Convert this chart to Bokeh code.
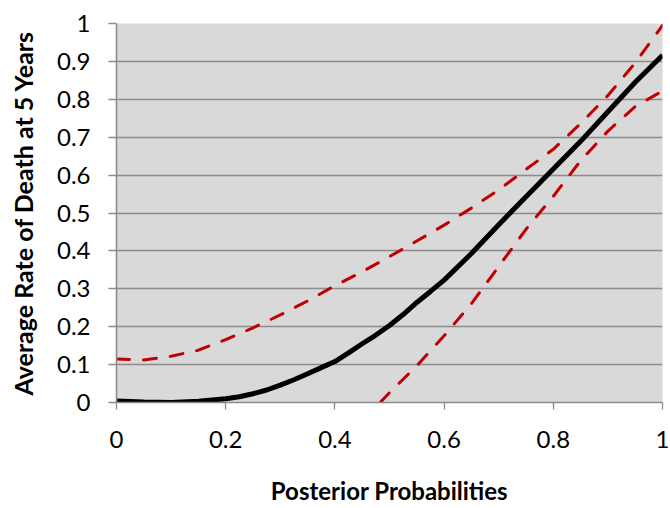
from bokeh.plotting import figure
from bokeh.models import Range1d, FixedTicker
from bokeh.embed import file_html
from bokeh.resources import INLINE

# Posterior probability grid (mean curve)
prob = [0.0, 0.05, 0.1, 0.15, 0.2, 0.225, 0.25, 0.275, 0.3, 0.325, 0.35, 0.375, 0.4,
        0.425, 0.45, 0.475, 0.5, 0.525, 0.55, 0.575, 0.6, 0.65, 0.7, 0.75, 0.8,
        0.85, 0.9, 0.95, 1.0]
# Mean rate of death (black)
mean_rate = [0.004, 0.001, 0.0, 0.003, 0.01, 0.015, 0.023, 0.033, 0.046, 0.06, 0.076, 0.092, 0.108,
             0.131, 0.155, 0.178, 0.203, 0.232, 0.264, 0.293, 0.323, 0.393, 0.469, 0.543, 0.616,
             0.689, 0.767, 0.845, 0.916]
# Upper bound (red dashed)
upper_prob = [0.0, 0.05, 0.1, 0.15, 0.2, 0.25, 0.3, 0.35, 0.4, 0.45, 0.5,
              0.55, 0.6, 0.65, 0.7, 0.75, 0.8, 0.85, 0.9, 0.95, 1.0]
upper_rate = [0.115, 0.112, 0.122, 0.138, 0.166, 0.197, 0.231, 0.268, 0.308, 0.345, 0.385,
              0.426, 0.468, 0.513, 0.561, 0.615, 0.668, 0.736, 0.81, 0.896, 0.995]
# Lower bound (red dashed), visible part
lower_prob = [0.483, 0.5, 0.55, 0.6, 0.65, 0.7, 0.75, 0.8, 0.85, 0.9, 0.95, 1.0]
lower_rate = [0.0, 0.026, 0.097, 0.176, 0.261, 0.359, 0.457, 0.544, 0.638, 0.716, 0.781, 0.822]

x_ticks = [0, 0.2, 0.4, 0.6, 0.8, 1.0]
x_tick_labels = ["0", "0.2", "0.4", "0.6", "0.8", "1"]
y_ticks = [0, 0.1, 0.2, 0.3, 0.4, 0.5, 0.6, 0.7, 0.8, 0.9, 1.0]
y_tick_labels = ["0", "0.1", "0.2", "0.3", "0.4", "0.5", "0.6", "0.7", "0.8", "0.9", "1"]

x_title = "Posterior Probabilities"
y_title = "Average Rate of Death at 5 Years"

FONT = "Lato"
GRID = "#8c8c8c"

p = figure(width=670, height=508, output_backend="svg", toolbar_location=None,
           x_range=Range1d(0, 1), y_range=Range1d(0, 1),
           min_border_left=116, min_border_right=8, min_border_top=23, min_border_bottom=106)
p.background_fill_color = "#d9d9d9"
p.border_fill_color = "white"
p.outline_line_color = None

p.xgrid.visible = False
p.ygrid.ticker = FixedTicker(ticks=y_ticks)
p.ygrid.grid_line_color = GRID
p.ygrid.grid_line_width = 1.6

p.xaxis.ticker = FixedTicker(ticks=x_ticks)
p.yaxis.ticker = FixedTicker(ticks=y_ticks)
p.xaxis.major_label_overrides = {t: l for t, l in zip(x_ticks, x_tick_labels)}
p.yaxis.major_label_overrides = {t: l for t, l in zip(y_ticks, y_tick_labels)}

for ax in (p.xaxis, p.yaxis):
    ax.axis_line_color = GRID
    ax.axis_line_width = 1.6
    ax.major_tick_line_color = GRID
    ax.major_tick_line_width = 1.3
    ax.major_tick_in = 0
    ax.minor_tick_line_color = None
    ax.major_label_text_font = FONT
    ax.major_label_text_font_size = "24px"
    ax.major_label_text_color = "black"
    ax.axis_label_text_font = FONT
    ax.axis_label_text_font_size = "25px"
    ax.axis_label_text_font_style = "bold"
    ax.axis_label_text_color = "black"
p.xaxis.axis_label_text_font_size = "24px"
p.xaxis.major_tick_out = 7
p.yaxis.major_tick_out = 8
p.xaxis.major_label_standoff = 21
p.yaxis.major_label_standoff = 18
p.xaxis.axis_label = x_title
p.yaxis.axis_label = y_title
p.xaxis.axis_label_standoff = 25
p.yaxis.axis_label_standoff = 16

p.line(upper_prob, upper_rate, line_color="#c00000", line_width=3, line_dash="13 14", line_cap="round")
p.line(lower_prob, lower_rate, line_color="#c00000", line_width=3, line_dash="13 14", line_cap="round")
p.line(prob, mean_rate, line_color="black", line_width=5)

open("out.html", "w").write(file_html(p, INLINE))
